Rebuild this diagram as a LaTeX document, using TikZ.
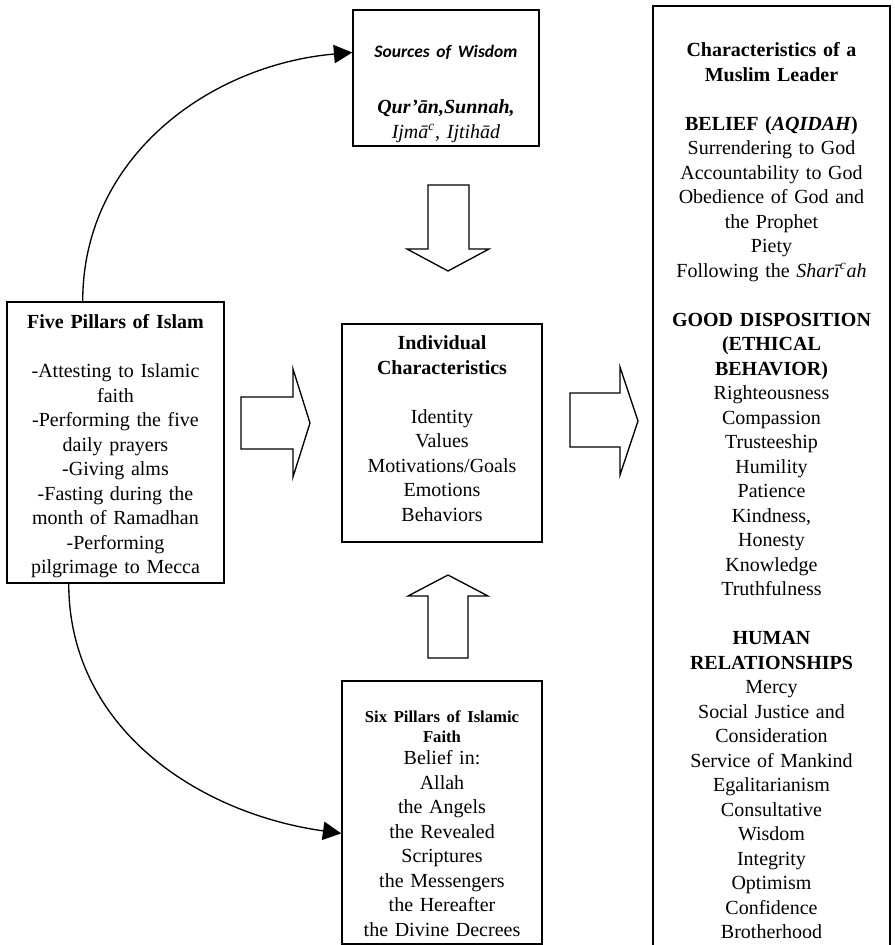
\documentclass[tikz,border=0pt]{standalone}
\usepackage{fontspec}
\setmainfont{Liberation Serif}
\newfontfamily\wisdomfont{Carlito}
\usetikzlibrary{arrows.meta,positioning,calc}

\begin{document}
\begin{tikzpicture}[x=0.6pt, y=-0.6pt,
  box/.style={draw, line width=0.9pt, inner sep=0pt, align=center, font=\fontsize{12}{14.7}\selectfont},
  fat/.style={draw, line width=0.8pt, fill=white},
  curve/.style={-{Triangle[length=11pt,width=11pt]}, line width=0.8pt}]
  \useasboundingbox (0,0) rectangle (895,945);
  \clip (0,0) rectangle (895,945);

  % Boxes
  \node[box, anchor=north, text width=111.6pt, text height=28.8pt, text depth=52.8pt] (sources) at (446,9)
    {{\wisdomfont\bfseries\itshape\fontsize{10.5}{12}\selectfont Sources of Wisdom}\\[18.9pt]
     \textbf{\textit{Qur’ān,Sunnah,}}\\
     \textit{Ijmā\textsuperscript{c}, Ijtihād}};
  \node[box, anchor=north, text width=130.2pt, text height=16.2pt, text depth=152.4pt] (pillars) at (115.5,301)
    {\textbf{Five Pillars of Islam}\\[14.7pt]
     -Attesting to Islamic\\ faith\\ -Performing the five\\ daily prayers\\ -Giving alms\\
     -Fasting during the\\ month of Ramadhan\\ -Performing\\ pilgrimage to Mecca};
  \node[box, anchor=north, text width=120pt, text height=15.6pt, text depth=115.2pt] (indiv) at (442,323)
    {\textbf{Individual}\\ \textbf{Characteristics}\\[14.7pt]
     Identity\\ Values\\ Motivations/Goals\\ Emotions\\ Behaviors};
  \node[box, anchor=north, text width=120pt, text height=25.2pt, text depth=132.6pt] (faith) at (442,680)
    {{\bfseries\fontsize{10}{12}\selectfont Six Pillars of Islamic}\\[-2.7pt]
     {\bfseries\fontsize{10}{12}\selectfont Faith}\\[-1.5pt]
     Belief in:\\ Allah\\ the Angels\\ the Revealed\\ Scriptures\\ the Messengers\\ the Hereafter\\ the Divine Decrees};
  \node[box, anchor=north, text width=142.2pt, text height=30.6pt, text depth=545.4pt] (leader) at (771.5,5)
    {\textbf{Characteristics of a}\\ \textbf{Muslim Leader}\\[14.7pt]
     \textbf{BELIEF (\textit{AQIDAH})}\\ Surrendering to God\\ Accountability to God\\ Obedience of God and\\
     the Prophet\\ Piety\\ Following the \textit{Sharī\textsuperscript{c}ah}\\[14.7pt]
     \textbf{GOOD DISPOSITION}\\ \textbf{(ETHICAL}\\ \textbf{BEHAVIOR)}\\ Righteousness\\ Compassion\\
     Trusteeship\\ Humility\\ Patience\\ Kindness,\\ Honesty\\ Knowledge\\ Truthfulness\\[14.7pt]
     \textbf{HUMAN}\\ \textbf{RELATIONSHIPS}\\ Mercy\\ Social Justice and\\ Consideration\\ Service of Mankind\\
     Egalitarianism\\ Consultative\\ Wisdom\\ Integrity\\ Optimism\\ Confidence\\ Brotherhood};

  % Block arrows
  \draw[fat] (428,185) -- (469,185) -- (469,249) -- (489,249) -- (448,271) -- (407,249) -- (428,249) -- cycle;
  \draw[fat] (428,658) -- (468,658) -- (468,596) -- (488,596) -- (448,575) -- (408,596) -- (428,596) -- cycle;
  \draw[fat] (241,397) -- (293,397) -- (293,369) -- (310,423) -- (293,477) -- (293,449) -- (241,449) -- cycle;
  \draw[fat] (570,393) -- (620,393) -- (620,367) -- (638,421) -- (620,475) -- (620,447) -- (570,447) -- cycle;

  % Curved arrows
  \draw[curve] ($(pillars.north west)!0.35!(pillars.north east)$) to[out=90, in=185]
    ($(sources.north west)!0.316!(sources.south west)$);
  \draw[curve] ($(pillars.south west)!0.286!(pillars.south east)$) to[out=-90, in=172]
    ($(faith.north west)!0.58!(faith.south west)$);
\end{tikzpicture}
\end{document}
